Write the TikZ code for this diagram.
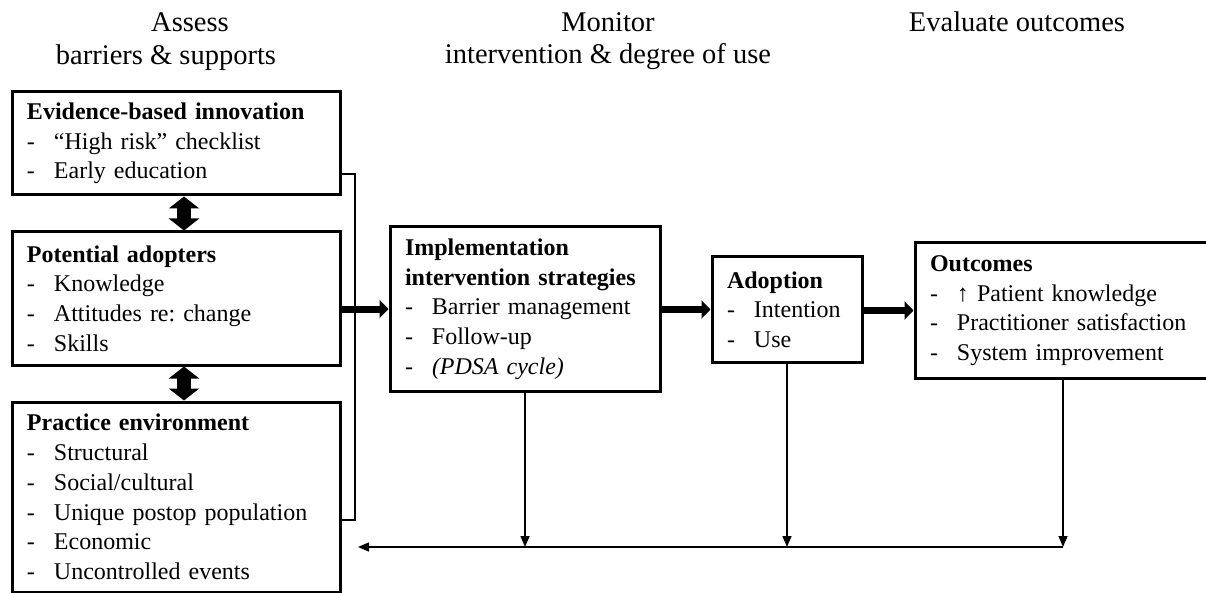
\documentclass[tikz,border=0pt]{standalone}
\usepackage{fontspec}
\setmainfont{Liberation Serif}
\usetikzlibrary{arrows.meta,calc}
\newcommand{\itm}[1]{\makebox[27pt][l]{-}#1}
\frenchspacing
\begin{document}
\begin{tikzpicture}[x=1pt,y=-1pt,
  box/.style={draw,line width=3pt,align=left,inner xsep=15pt,inner ysep=0pt,
    font=\fontsize{24}{29.7}\selectfont,anchor=center},
  head/.style={font=\fontsize{28.5}{33}\selectfont,anchor=base,inner sep=0pt},
  thick arrow/.style={line width=7pt,-{Triangle[length=9pt,width=18pt]}},
  dbl arrow/.style={line width=14pt,{Triangle[length=12pt,width=30pt]}-{Triangle[length=12pt,width=30pt]}},
  thin line/.style={line width=1.5pt},
  thin arrow/.style={line width=1.5pt,-{Triangle[length=11pt,width=9pt]}}]
\useasboundingbox (0,0) rectangle (1206,593);

% headings
\node[head] (h1a) at (190,31.7) {Assess};
\node[head] (h1b) at (166,65) {barriers \& supports};
\node[head] (h2a) at (608,31.7) {Monitor};
\node[head] (h2b) at (608,64) {intervention \& degree of use};
\node[head] (h3) at (1017,31.7) {Evaluate outcomes};

% boxes
\node[box,text width=298pt,minimum height=103pt] (box1) at (176,143.5)
  {\textbf{Evidence-based innovation}\\\itm{“High risk” checklist}\\\itm{Early education}};
\node[box,text width=298pt,minimum height=133pt] (box2) at (176,298.5)
  {\textbf{Potential adopters}\\\itm{Knowledge}\\\itm{Attitudes re: change}\\\itm{Skills}};
\node[box,text width=298pt,minimum height=190pt] (box3) at (176,497)
  {\textbf{Practice environment}\\\itm{Structural}\\\itm{Social/cultural}\\\itm{Unique postop population}\\\itm{Economic}\\\itm{Uncontrolled events}};
\node[box,text width=240pt,minimum height=164pt] (box4) at (525,309)
  {\textbf{Implementation}\\\textbf{intervention strategies}\\\itm{Barrier management}\\\itm{Follow-up}\\\itm{\textit{(PDSA cycle)}}};
\node[box,text width=120pt,minimum height=105pt] (box5) at (787,309.5)
  {\textbf{Adoption}\\\itm{Intention}\\\itm{Use}};
\node[box,text width=266pt,minimum height=135pt] (box6) at (1063,310.5)
  {\textbf{Outcomes}\\\itm{↑ Patient knowledge}\\\itm{Practitioner satisfaction}\\\itm{System improvement}};

% double arrows
\draw[dbl arrow] ([xshift=8pt]box1.south) -- ([xshift=8pt]box2.north);
\draw[dbl arrow] ([xshift=8pt]box2.south) -- ([xshift=8pt]box3.north);

% bracket
\coordinate (b1) at (355,174);
\coordinate (b2) at (355,520);
\draw[thin line] (box1.east |- b1) -- (b1) -- (b2) -- (box3.east |- b2);

% main flow
\draw[thick arrow] (box2.east |- box4.west) -- (box4.west);
\draw[thick arrow] (box4.east |- box5.west) -- (box5.west);
\draw[thick arrow] (box5.east |- box6.west) -- (box6.west);

% feedback
\coordinate (fb) at (358,547);
\draw[thin arrow] (box4.south) -- (box4.south |- fb);
\draw[thin arrow] (box5.south) -- (box5.south |- fb);
\draw[thin arrow] (box6.south) -- (box6.south |- fb);
\draw[thin arrow] (box6.south |- fb) -- (fb);
\end{tikzpicture}
\end{document}
